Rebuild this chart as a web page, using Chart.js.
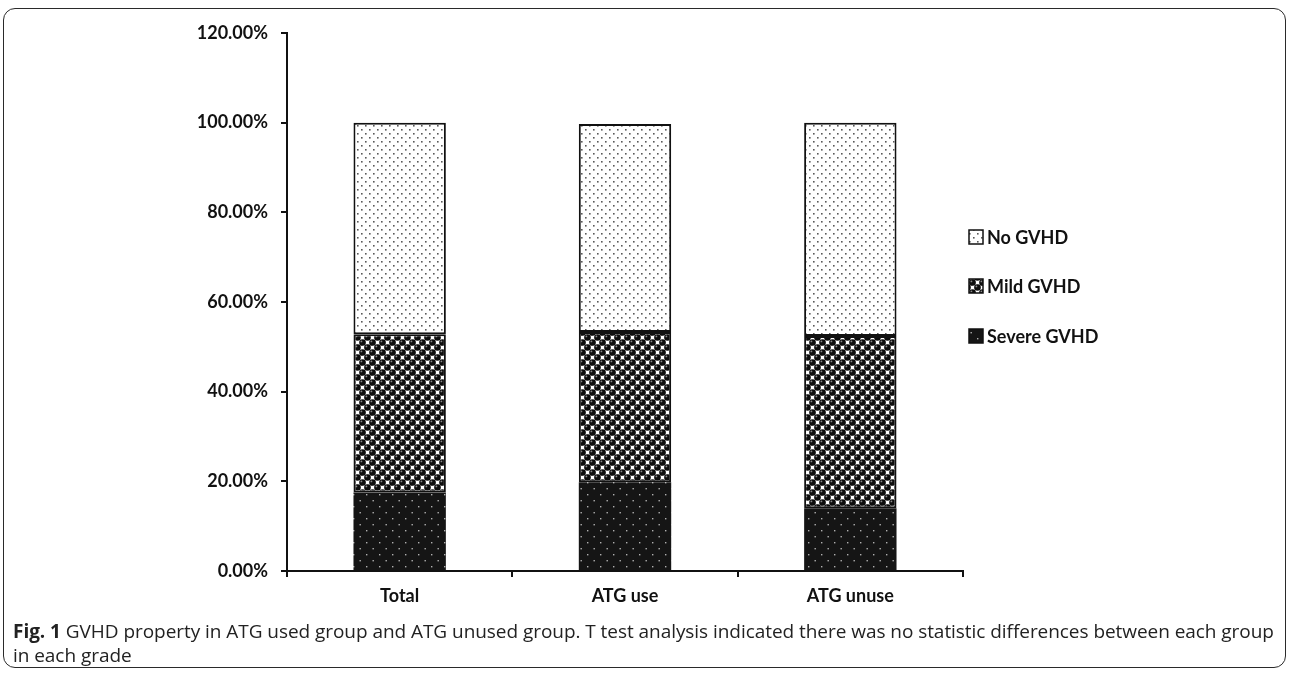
<!DOCTYPE html>
<html>
<head>
<meta charset="utf-8">
<script src="https://cdn.jsdelivr.net/npm/chart.js@4.4.1/dist/chart.umd.min.js"></script>
<style>
  html, body { margin: 0; padding: 0; background: #fff; }
  #wrap { position: relative; width: 1292px; height: 676px; overflow: hidden; }
  #frame { position: absolute; left: 3px; top: 8px; width: 1283px; height: 660px;
           border: 1.5px solid #2a2a2a; border-radius: 12px; box-sizing: border-box; }
  #c { position: absolute; left: 0; top: 0; }
  #caption { position: absolute; left: 13px; top: 619px; font-family: "Open Sans", sans-serif;
             font-size: 19px; line-height: 24px; color: #222; white-space: nowrap; letter-spacing: -0.05px; }
  #caption b { font-weight: 700; }
</style>
</head>
<body>
<div id="wrap">
  <div id="frame"></div>
  <canvas id="c" width="1292" height="620"></canvas>
  <div id="caption"><b>Fig. 1</b> GVHD property in ATG used group and ATG unused group. T test analysis indicated there was no statistic differences between each group<br>in each grade</div>
</div>
<script>
// ---- data ----
const categories = ['Total', 'ATG use', 'ATG unuse'];
const seriesNames = ['Severe GVHD', 'Mild GVHD', 'No GVHD'];
const severeGVHD = [17.5, 19.8, 14.0];
const mildGVHD = [35.3, 33.5, 38.4];
const noGVHD = [47.2, 46.4, 47.6];
const yTickMax = 120;
const yTickStep = 20;

// ---- patterns ----
function makePattern(w, h, draw) {
  const c = document.createElement('canvas');
  c.width = w; c.height = h;
  const g = c.getContext('2d');
  draw(g);
  return document.getElementById('c').getContext('2d').createPattern(c, 'repeat');
}
const patNo = makePattern(8, 8, g => {
  g.fillStyle = '#fff'; g.fillRect(0, 0, 8, 8);
  g.fillStyle = '#5a5a5a';
  g.fillRect(1, 1, 1.6, 1.6);
  g.fillRect(5, 5, 1.6, 1.6);
});
const patMild = makePattern(10, 10, g => {
  g.fillStyle = '#fff'; g.fillRect(0, 0, 10, 10);
  g.fillStyle = '#9a9a9a';
  g.fillRect(0, 4.6, 10, 0.8);
  g.fillRect(4.6, 0, 0.8, 10);
  const sphere = (x, y) => {
    g.fillStyle = '#0d0d0d';
    g.beginPath(); g.arc(x, y, 3.3, 0, Math.PI * 2); g.fill();
    g.fillStyle = '#8a8a8a';
    g.beginPath(); g.arc(x - 1.1, y - 1.1, 0.9, 0, Math.PI * 2); g.fill();
  };
  [[2.5, 2.5], [7.5, 7.5], [12.5, 2.5], [-2.5, 7.5], [2.5, 12.5], [7.5, -2.5], [12.5, 12.5], [-2.5, -2.5]].forEach(p => sphere(p[0], p[1]));
});
const patSevere = makePattern(13, 12, g => {
  g.fillStyle = '#151515'; g.fillRect(0, 0, 13, 12);
  g.fillStyle = '#b0b0b0';
  g.fillRect(2, 2, 1.4, 1.4);
  g.fillRect(8.5, 8, 1.4, 1.4);
});
const patterns = [patSevere, patMild, patNo];
const seriesValues = [severeGVHD, mildGVHD, noGVHD];

const tickFont = { family: 'Lato', weight: 'bold', size: 18 };

const legendPlugin = {
  id: 'sideLegend',
  afterDraw(chart) {
    const ctx = chart.ctx;
    const ys = [237, 286, 336];
    const order = [2, 1, 0];
    ctx.save();
    order.forEach((di, k) => {
      const ds = chart.data.datasets[di];
      const y = ys[k];
      ctx.fillStyle = ds.backgroundColor;
      ctx.fillRect(969, y - 7, 14, 14);
      ctx.strokeStyle = '#111';
      ctx.lineWidth = 1.5;
      ctx.strokeRect(969, y - 7, 14, 14);
      ctx.fillStyle = '#111';
      ctx.font = 'bold 18px Lato';
      ctx.textBaseline = 'middle';
      ctx.textAlign = 'left';
      ctx.fillText(ds.label, 987, y + 1);
    });
    ctx.restore();
  }
};

new Chart(document.getElementById('c'), {
  type: 'bar',
  data: {
    labels: categories,
    datasets: seriesNames.map((name, i) => ({
      label: name,
      data: seriesValues[i],
      backgroundColor: patterns[i],
      borderColor: '#111',
      borderWidth: i === 0 ? 0 : 2,
      borderSkipped: false,
      categoryPercentage: 1,
      barPercentage: 0.41
    }))
  },
  options: {
    responsive: false,
    animation: false,
    events: [],
    layout: { padding: { left: 0, top: 33, right: 329, bottom: 0 } },
    plugins: { legend: { display: false }, tooltip: { enabled: false } },
    scales: {
      x: {
        stacked: true,
        grid: { display: true, drawOnChartArea: false, drawTicks: true, tickLength: 6,
                color: '#111', lineWidth: 2, offset: true },
        border: { color: '#111', width: 2 },
        ticks: { font: tickFont, color: '#111', padding: 8 },
        afterFit(s) { s.height = 620 - 571; }
      },
      y: {
        stacked: true,
        min: 0, max: yTickMax,
        grid: { display: true, drawOnChartArea: false, drawTicks: true, tickLength: 6,
                color: '#111', lineWidth: 2 },
        border: { color: '#111', width: 2 },
        ticks: { stepSize: yTickStep, font: tickFont, color: '#111', padding: 13,
                 callback: v => v.toFixed(2) + '%' },
        afterFit(s) { s.width = 287; }
      }
    }
  },
  plugins: [legendPlugin]
});
</script>
</body>
</html>
